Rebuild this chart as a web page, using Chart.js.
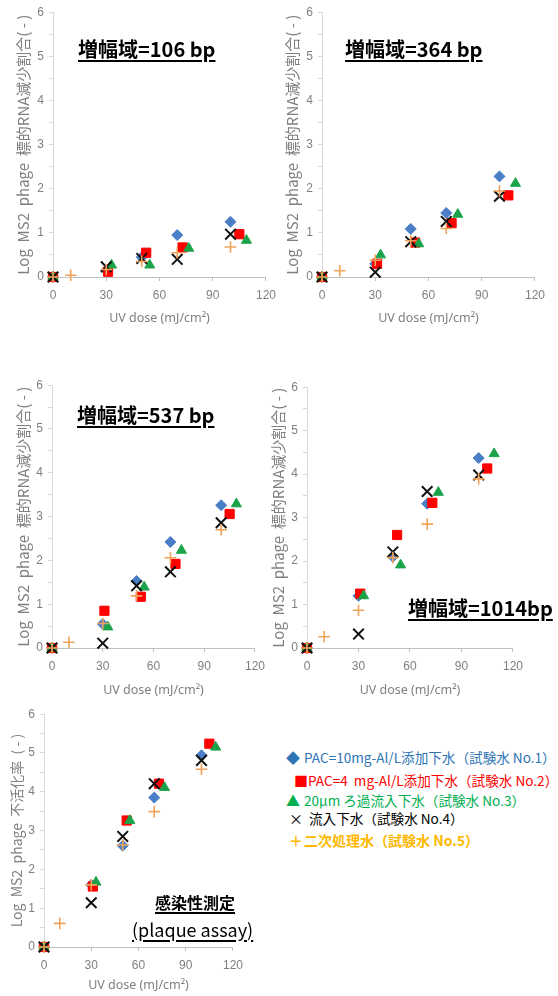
<!DOCTYPE html>
<html>
<head>
<meta charset="utf-8">
<script src="https://cdn.jsdelivr.net/npm/chart.js@4.4.1/dist/chart.umd.min.js"></script>
<style>
  body { margin: 0; background: #fff; }
  #page { position: relative; width: 558px; height: 996px; overflow: hidden; font-family: "Noto Sans CJK JP", "Noto Sans", sans-serif; }
  canvas { position: absolute; }
  .ttl { position: absolute; font-weight: bold; color: #000; white-space: nowrap; text-decoration: underline; text-decoration-thickness: 2px; text-underline-offset: 3px; line-height: 24px; }
  .leg { position: absolute; left: 286px; font-size: 13.6px; line-height: 18px; white-space: nowrap; }
  .leg span.m { display: inline-block; width: 18px; font-size: 14px; }
</style>
</head>
<body>
<div id="page">
  <canvas id="c1" width="273" height="329" style="left:10px;top:0px"></canvas>
  <canvas id="c2" width="273" height="329" style="left:279px;top:0px"></canvas>
  <canvas id="c3" width="262" height="328" style="left:10px;top:373px"></canvas>
  <canvas id="c4" width="265" height="326" style="left:265px;top:375px"></canvas>
  <canvas id="c5" width="246" height="294" style="left:4px;top:702px"></canvas>

  <div class="ttl" style="left:78px;top:37px;font-size:20px">増幅域=106 bp</div>
  <div class="ttl" style="left:345px;top:37px;font-size:20px">増幅域=364 bp</div>
  <div class="ttl" style="left:77px;top:403px;font-size:20px">増幅域=537 bp</div>
  <div class="ttl" style="left:408px;top:596px;font-size:20px">増幅域=1014bp</div>
  <div class="ttl" style="left:155px;top:890px;font-size:16px;text-decoration-thickness:1.5px">感染性測定</div>
  <div class="ttl" style="left:132px;top:917px;font-size:18px;font-weight:normal;text-decoration-thickness:1.5px">(plaque assay)</div>

  <div class="leg" style="top:748px;color:#2E75B6"><span class="m">◆</span>PAC=10mg-Al/L添加下水（試験水 No.1）</div>
  <div class="leg" style="top:771px;color:#FF0000"><span class="m" style="padding-left:8px;width:14px">■</span>PAC=4&nbsp; mg-Al/L添加下水（試験水 No.2）</div>
  <div class="leg" style="top:791px;color:#00B050"><span class="m">▲</span>20µm ろ過流入下水（試験水 No.3）</div>
  <div class="leg" style="top:809px;color:#000"><span class="m" style="padding-left:3px;width:20px">×</span>流入下水（試験水 No.4）</div>
  <div class="leg" style="top:831px;color:#FFB800;font-weight:bold;font-size:14px"><span class="m" style="padding-left:3px;width:15px">＋</span>二次処理水（試験水 No.5）</div>
</div>
<script>
// UV dose (mJ/cm2) per series, slightly shifted as in the figure
const doseDiamond = [0, 30, 50, 70, 100];
const doseSquare = [0, 31, 52.5, 73, 105];
const doseTriangle = [0, 33, 54.5, 76.5, 109];
const doseCross = [0, 30, 50, 70, 100];
const dosePlus = [0, 10, 30, 50, 70, 100];

const seriesNames = [
  'PAC=10mg-Al/L添加下水（試験水 No.1）',
  'PAC=4 mg-Al/L添加下水（試験水 No.2）',
  '20µm ろ過流入下水（試験水 No.3）',
  '流入下水（試験水 No.4）',
  '二次処理水（試験水 No.5）'
];

// 増幅域=106 bp
const bp106 = [
  [0, 0.15, 0.45, 0.95, 1.25],
  [0, 0.12, 0.55, 0.67, 0.97],
  [0, 0.27, 0.27, 0.65, 0.83],
  [0, 0.23, 0.42, 0.40, 0.97],
  [0, 0.04, 0.17, 0.35, 0.55, 0.68]
];
// 増幅域=364 bp
const bp364 = [
  [0, 0.3, 1.09, 1.45, 2.28],
  [0, 0.3, 0.78, 1.22, 1.85],
  [0, 0.5, 0.75, 1.42, 2.12],
  [0, 0.11, 0.8, 1.26, 1.83],
  [0, 0.14, 0.38, 0.82, 1.1, 1.95]
];
// 増幅域=537 bp
const bp537 = [
  [0, 0.55, 1.53, 2.42, 3.26],
  [0, 0.85, 1.17, 1.92, 3.06],
  [0, 0.48, 1.39, 2.23, 3.29],
  [0, 0.11, 1.42, 1.74, 2.86],
  [0, 0.13, 0.56, 1.19, 2.06, 2.7]
];
// 増幅域=1014bp
const bp1014 = [
  [0, 1.2, 2.1, 3.32, 4.37],
  [0, 1.25, 2.6, 3.34, 4.13],
  [0, 1.2, 1.91, 3.58, 4.47],
  [0, 0.32, 2.21, 3.6, 3.98],
  [0, 0.26, 0.87, 2.08, 2.85, 3.89]
];
// 感染性測定 (plaque assay)
const plaque = [
  [0, 1.6, 2.61, 3.85, 4.94],
  [0, 1.56, 3.26, 4.21, 5.24],
  [0, 1.67, 3.26, 4.11, 5.15],
  [0, 1.14, 2.85, 4.21, 4.81],
  [0, 0.61, 1.6, 2.63, 3.49, 4.58]
];

const xTicks = [0, 30, 60, 90, 120];
const yTicks = [0, 1, 2, 3, 4, 5, 6];

const doses = [doseDiamond, doseSquare, doseTriangle, doseCross, dosePlus];
const marks = [
  { style: 'rectRot', r: 5.5, fill: '#4A7EC7', line: '#4A7EC7', bw: 1 },
  { style: 'rect', r: 6.5, fill: '#FF0000', line: '#FF0000', bw: 1 },
  { style: 'triangle', r: 5.8, fill: '#1BA34A', line: '#1BA34A', bw: 1 },
  { style: 'crossRot', r: 7.5, fill: '#000', line: '#111', bw: 2 },
  { style: 'cross', r: 5.8, fill: '#F2A35B', line: '#F2A35B', bw: 1.6 }
];

const gray = '#7F7F7F';

function panel(id, values, yTitle, yTitleSize, yw, xh) {
  const ctx = document.getElementById(id).getContext('2d');
  new Chart(ctx, {
    type: 'scatter',
    data: {
      datasets: values.map((vals, i) => ({
        label: seriesNames[i],
        data: vals.map((v, j) => ({ x: doses[i][j], y: v })),
        pointStyle: marks[i].style,
        pointRadius: marks[i].r,
        backgroundColor: marks[i].fill,
        borderColor: marks[i].line,
        borderWidth: marks[i].bw,
        order: 4 - i, // later series drawn on top
        clip: false
      }))
    },
    options: {
      responsive: false,
      animation: false,
      events: [],
      layout: { padding: { top: 10, right: 15, left: 0, bottom: 0 } },
      plugins: { legend: { display: false }, tooltip: { enabled: false } },
      scales: {
        x: {
          min: xTicks[0], max: xTicks[xTicks.length - 1],
          afterBuildTicks: s => { s.ticks = xTicks.map(v => ({ value: v })); },
          ticks: { color: gray, font: { size: 12, family: 'Liberation Sans' }, padding: 7, maxRotation: 0 },
          grid: { display: true, drawOnChartArea: false, tickLength: 4, color: '#BFBFBF' },
          border: { color: '#BFBFBF', width: 1 },
          title: { display: true, text: 'UV dose (mJ/cm²)', color: gray, font: { size: 12.5, family: 'Noto Sans' }, padding: { top: 0, bottom: 3.5 } },
          afterFit: s => { s.height = xh; }
        },
        y: {
          min: 0, max: 6,
          ticks: {
            stepSize: 0.5,
            autoSkip: false,
            color: gray, font: { size: 12, family: 'Liberation Sans' }, padding: 5,
            callback: v => yTicks.includes(v) ? v : ''
          },
          grid: { display: true, drawOnChartArea: false, tickLength: 4, color: '#D9D9D9' },
          border: { color: '#D9D9D9', width: 1 },
          title: { display: true, text: yTitle, color: gray, font: { size: yTitleSize, family: 'Noto Sans CJK JP' }, padding: { top: 4, bottom: 0 } },
          afterFit: s => { s.width = yw; }
        }
      }
    }
  });
}

const rnaTitle = 'Log  MS2  phage  標的RNA減少割合( - )';
panel('c1', bp106, rnaTitle, 15, 43, 52);
panel('c2', bp364, rnaTitle, 15, 43, 52);
panel('c3', bp537, rnaTitle, 15, 42, 53);
panel('c4', bp1014, rnaTitle, 15, 42, 53);
panel('c5', plaque, 'Log  MS2  phage  不活化率  ( - )', 14, 40, 49);
</script>
</body>
</html>
